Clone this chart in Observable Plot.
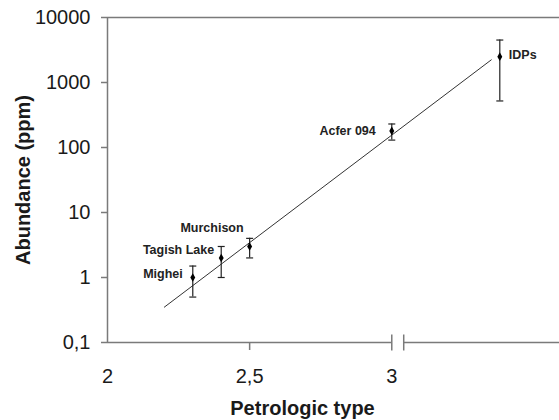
<!DOCTYPE html>
<html><head><meta charset="utf-8">
<script src="https://cdn.jsdelivr.net/npm/d3@7"></script>
<script src="https://cdn.jsdelivr.net/npm/@observablehq/plot@0.6"></script>
<style>body{margin:0;background:#fff} svg{display:block}</style>
</head><body><div id="chart"></div>
<script>
// ---- data ----
const names = ["Mighei", "Tagish Lake", "Murchison", "Acfer 094", "IDPs"];
const petrologicType = [2.3, 2.4, 2.5, 3.0, 3.38];
const abundance = [1, 2, 3, 180, 2500];
const errLow = [0.5, 1, 2, 130, 520];
const errHigh = [1.5, 3, 4, 230, 4500];
const fitX = [2.2, 3.35];
const fitY = [0.35, 2230];
const yTicks = [0.1, 1, 10, 100, 1000, 10000];
const yTickLabels = ["0,1", "1", "10", "100", "1000", "10000"];
const xTicks = [2, 2.5, 3];
const xTickLabels = ["2", "2,5", "3"];
const xBreak = [3, 3.042];
const xMin = 2, xMax = 3.59;

// ---- label layout (pixel offsets) ----
const labelLayout = {
  "Mighei": {dx: -10, dy: -4, anchor: "end"},
  "Tagish Lake": {dx: -7, dy: -8, anchor: "end"},
  "Murchison": {dx: -6, dy: -18, anchor: "end"},
  "Acfer 094": {dx: -16, dy: 0, anchor: "end"},
  "IDPs": {dx: 9, dy: -2, anchor: "start"}
};

const rows = names.map((n, i) => ({name: n, x: petrologicType[i], y: abundance[i], lo: errLow[i], hi: errHigh[i]}));
const fit = fitX.map((x, i) => ({x, y: fitY[i]}));
const caps = rows.flatMap(d => [{x: d.x, y: d.lo}, {x: d.x, y: d.hi}]);

const capSymbol = {draw(ctx) { ctx.moveTo(-3.5, 0); ctx.lineTo(3.5, 0); }};
const breakSymbol = {draw(ctx) { ctx.moveTo(0, -8); ctx.lineTo(0, 8); }};

const axisGray = "#7a7a7a";
const ink = "#1a1a1a";

const labelMarks = rows.map(d => Plot.text([d], {
  x: "x", y: "y", text: "name",
  dx: labelLayout[d.name].dx, dy: labelLayout[d.name].dy,
  textAnchor: labelLayout[d.name].anchor,
  fontSize: 12.5, fontWeight: "bold", fill: "#222"
}));

const chart = Plot.plot({
  width: 559, height: 420,
  marginLeft: 107, marginRight: 0, marginTop: 17, marginBottom: 78,
  style: {fontFamily: "'Liberation Sans', Arial, sans-serif", background: "#fff"},
  x: {domain: [xMin, xMax]},
  y: {type: "log", domain: [yTicks[0], yTicks[yTicks.length - 1]]},
  marks: [
    // frame lines
    Plot.ruleX([xMin], {stroke: axisGray, strokeWidth: 1.5}),
    Plot.ruleY([yTicks[yTicks.length - 1]], {stroke: axisGray, strokeWidth: 1.5}),
    Plot.ruleY([yTicks[0]], {x1: xMin, x2: xBreak[0], stroke: axisGray, strokeWidth: 1.5}),
    Plot.ruleY([yTicks[0]], {x1: xBreak[1], x2: xMax, stroke: axisGray, strokeWidth: 1.5}),
    Plot.dot(xBreak, {x: d => d, y: () => yTicks[0], symbol: breakSymbol, stroke: axisGray, strokeWidth: 1.5, r: 5}),
    // axes
    Plot.axisY({ticks: yTicks, tickFormat: d => yTickLabels[yTicks.indexOf(d)], tickSize: 6, tickPadding: 11,
      fontSize: 20, color: ink, stroke: axisGray, strokeWidth: 1.5, label: null}),
    Plot.axisX({ticks: [xTicks[1]], tickFormat: () => "", tickSize: 8, stroke: axisGray, strokeWidth: 1.5, label: null}),
    Plot.axisX({ticks: xTicks, tickFormat: d => xTickLabels[xTicks.indexOf(d)], tickSize: 0, tickPadding: 26,
      fontSize: 20, color: ink, label: null}),
    // fit line
    Plot.line(fit, {x: "x", y: "y", stroke: "#333", strokeWidth: 1}),
    // error bars
    Plot.ruleX(rows, {x: "x", y1: "lo", y2: "hi", stroke: "#222", strokeWidth: 1.2}),
    Plot.dot(caps, {x: "x", y: "y", symbol: capSymbol, stroke: "#222", strokeWidth: 1.2, r: 4}),
    Plot.dot(rows, {x: "x", y: "y", symbol: "diamond", r: 2.6, fill: "#000", stroke: "none"}),
    ...labelMarks,
    // axis titles
    Plot.text(["Abundance (ppm)"], {frameAnchor: "left", dx: -84, rotate: -90, fontSize: 20, fontWeight: "bold", fill: ink, textAnchor: "middle", lineAnchor: "middle"}),
    Plot.text(["Petrologic type"], {frameAnchor: "bottom", dx: -31, dy: 66, fontSize: 20, fontWeight: "bold", fill: ink, textAnchor: "middle", lineAnchor: "middle"})
  ]
});
document.getElementById("chart").append(chart);
</script>
</body></html>
